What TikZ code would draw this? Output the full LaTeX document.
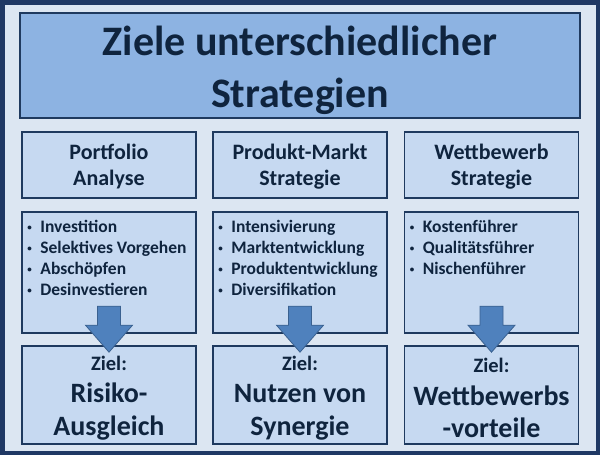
\documentclass[tikz,border=0pt]{standalone}
\usepackage{fontspec}
\setmainfont{Carlito}
\usepackage{xcolor}
\usetikzlibrary{calc}

\definecolor{framebg}{HTML}{DCE6F2}
\definecolor{framedark}{HTML}{1F3864}
\definecolor{titlefill}{HTML}{8DB3E2}
\definecolor{boxfill}{HTML}{C6D9F1}
\definecolor{boxline}{HTML}{1F3A5F}
\definecolor{navytext}{HTML}{0F243E}
\definecolor{arrowfill}{HTML}{4F81BD}
\definecolor{arrowline}{HTML}{3A6190}

\newcommand{\itm}[1]{\makebox[13pt][l]{\raisebox{2pt}{\fontsize{9}{9}\selectfont\textbullet}}#1}
\newcommand{\zielline}{{\fontsize{20.5}{24}\selectfont Ziel:}}

\begin{document}
\begin{tikzpicture}[x=1pt,y=-1pt,
    box/.style={draw=boxline, line width=1.6pt, fill=boxfill,
        inner sep=0pt, minimum width=174pt},
    headbox/.style={box, minimum height=66pt},
    listbox/.style={box, minimum height=121pt},
    goalbox/.style={box, minimum height=98pt},
    headtext/.style={inner sep=0pt, align=center, text=navytext,
        font=\fontsize{22}{26}\selectfont\bfseries},
    listtext/.style={anchor=north west, inner sep=0pt, align=left, text=navytext,
        font=\fontsize{17.5}{21}\selectfont\bfseries},
    goaltext/.style={inner sep=0pt, align=center, text=navytext,
        font=\fontsize{28}{32.5}\selectfont\bfseries},
    blockarrow/.style={fill=arrowfill, draw=arrowline, line width=0.8pt}]

    \useasboundingbox (0,0) rectangle (600,455);

    % Frame and title
    \draw[line width=4.5pt, draw=framedark, fill=framebg] (2.25,2.25) rectangle (597.75,452.75);
    \node[draw=boxline, line width=2pt, fill=titlefill, inner sep=0pt,
        minimum width=560pt, minimum height=105pt] (title) at (300,65.5) {};
    \node[inner sep=0pt, align=center, text=navytext,
        font=\fontsize{42}{52}\selectfont\bfseries] (titletext) at ($(title)+(0,5)$)
        {Ziele unterschiedlicher\\Strategien};

    % Column 1: Portfolio
    \node[headbox] (head1) at (109,165) {};
    \node[headtext] (headtext1) at ($(head1)+(0,2)$) {Portfolio\\Analyse};
    \node[listbox] (list1) at (109,272.5) {};
    \node[listtext] (items1) at ($(list1.north west)+(6,8.5)$)
        {\itm{Investition}\\\itm{Selektives Vorgehen}\\\itm{Abschöpfen}\\\itm{Desinvestieren}};
    \node[goalbox] (goal1) at (109,395) {};
    \node[goaltext] (ziel1) at ($(goal1)+(0,3)$) {\zielline\\Risiko-\\Ausgleich};

    % Column 2: Produkt-Markt
    \node[headbox] (head2) at (300,165) {};
    \node[headtext] (headtext2) at ($(head2)+(0,2)$) {Produkt-Markt\\Strategie};
    \node[listbox] (list2) at (300,272.5) {};
    \node[listtext] (items2) at ($(list2.north west)+(6,8.5)$)
        {\itm{Intensivierung}\\\itm{Marktentwicklung}\\\itm{Produktentwicklung}\\\itm{Diversifikation}};
    \node[goalbox] (goal2) at (300,395) {};
    \node[goaltext] (ziel2) at ($(goal2)+(0,3)$) {\zielline\\Nutzen von\\Synergie};

    % Column 3: Wettbewerb
    \node[headbox] (head3) at (491.5,165) {};
    \node[headtext] (headtext3) at ($(head3)+(0,2)$) {Wettbewerb\\Strategie};
    \node[listbox] (list3) at (491.5,272.5) {};
    \node[listtext] (items3) at ($(list3.north west)+(6,8.5)$)
        {\itm{Kostenführer}\\\itm{Qualitätsführer}\\\itm{Nischenführer}};
    \node[goalbox] (goal3) at (491.5,395) {};
    \node[goaltext] (ziel3) at ($(goal3)+(0,3)$) {\zielline\\Wettbewerbs\\-vorteile};

    % Block arrows from list to goal
    \draw[blockarrow] ($(goal1.north)+(0,7)$) -- ++(23.5,-27) -- ++(-12,0) -- ++(0,-19)
        -- ++(-23,0) -- ++(0,19) -- ++(-12,0) -- cycle;
    \draw[blockarrow] ($(goal2.north)+(0,7)$) -- ++(23.5,-27) -- ++(-12,0) -- ++(0,-19)
        -- ++(-23,0) -- ++(0,19) -- ++(-12,0) -- cycle;
    \draw[blockarrow] ($(goal3.north)+(0,7)$) -- ++(23.5,-27) -- ++(-12,0) -- ++(0,-19)
        -- ++(-23,0) -- ++(0,19) -- ++(-12,0) -- cycle;
\end{tikzpicture}
\end{document}
